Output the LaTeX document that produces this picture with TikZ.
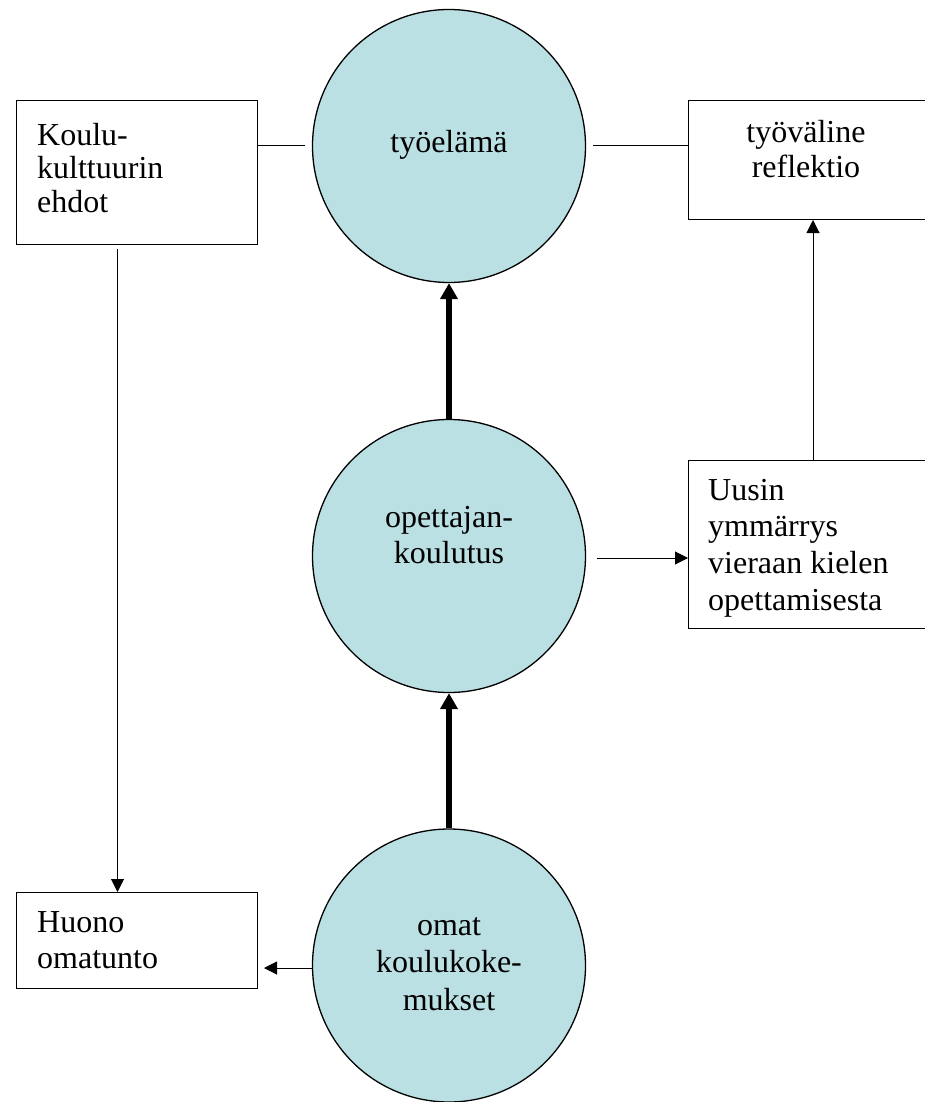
\documentclass[tikz,border=0pt]{standalone}
\usepackage{fontspec}
\setmainfont{Liberation Serif}
\usetikzlibrary{arrows.meta,calc}
\definecolor{circfill}{RGB}{186,224,227}
\newcommand\firstline{\rule{0pt}{22pt}}
\begin{document}
\begin{tikzpicture}[x=1pt,y=-1pt,
  bubble/.style={circle,draw,line width=1.3pt,fill=circfill,minimum size=273pt,inner sep=0pt},
  frame/.style={draw,line width=1pt,inner sep=0pt,anchor=north west},
  txt/.style={inner sep=0pt,font=\fontsize{32pt}{#1}\selectfont},
  thin/.style={line width=1pt},
  thinarrow/.style={line width=1pt,-{Triangle[width=13pt,length=13pt]}},
  thickarrow/.style={line width=6pt,-{Triangle[width=17pt,length=16pt]}}
]
\useasboundingbox (0,0) rectangle (924,1102);

% circles
\node[bubble] (tyoelama) at (449,146) {};
\node[bubble] (opet) at (449,556) {};
\node[bubble] (omat) at (449,965.5) {};

% boxes
\node[frame,minimum width=241pt,minimum height=144pt] (koulu) at (16,100) {};
\node[frame,minimum width=241pt,minimum height=119pt] (tyov) at (688,100) {};
\node[frame,minimum width=241pt,minimum height=168pt] (uusin) at (688,460) {};
\node[frame,minimum width=241pt,minimum height=96pt] (huono) at (16,892) {};

% texts
\node[txt=36.5pt,anchor=north] (tyoelamaT) at (449,130) {\firstline työelämä};
\node[txt=36.5pt,anchor=north,align=center] (opetT) at (449,505) {\firstline opettajan-\\koulutus};
\node[txt=37.5pt,anchor=north,align=center] (omatT) at (449,913) {\firstline omat\\koulukoke-\\mukset};
\node[txt=33.5pt,anchor=north west,align=left] (kouluT) at (37,123) {\firstline Koulu-\\kulttuurin\\ehdot};
\node[txt=35pt,anchor=north,align=center] (tyovT) at (806,120) {\firstline työväline\\reflektio};
\node[txt=36.7pt,anchor=north west,align=left] (uusinT) at (708,478) {\firstline Uusin\\ymmärrys\\vieraan kielen\\opettamisesta};
\node[txt=36pt,anchor=north west,align=left] (huonoT) at (37,910) {\firstline Huono\\omatunto};

% connectors
\draw[thin,shorten >=7pt] (koulu.east |- tyoelama.west) -- (tyoelama.west);
\draw[thin,shorten <=7pt] (tyoelama.east) -- (tyoelama.east -| tyov.west);
\draw[thickarrow] (opet.north) -- (tyoelama.south);
\draw[thickarrow] (omat.north) -- (opet.south);
\draw[thinarrow,shorten <=11pt] ($(opet.east)+(0,2)$) -- ($(opet.east -| uusin.west)+(0,2)$);
\draw[thinarrow] ($(uusin.north west)+(125,0)$) -- ($(tyov.south west)+(125,0)$);
\draw[thinarrow,shorten <=4pt] ($(koulu.south)+(-19.5,0)$) -- ($(huono.north)+(-19.5,0)$);
\draw[thinarrow,shorten >=6pt] ($(omat.west)+(0,2.5)$) -- ($(omat.west -| huono.east)+(0,2.5)$);
\end{tikzpicture}
\end{document}
